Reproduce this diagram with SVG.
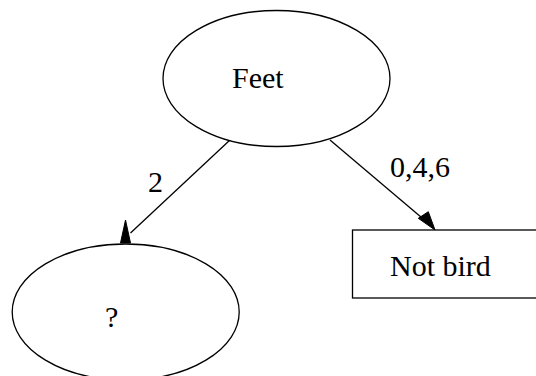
<svg xmlns="http://www.w3.org/2000/svg" width="536" height="376" viewBox="0 0 536 376">
<style>
.shape{fill:#fff;stroke:#000;stroke-width:1.3}
.lbl{font-family:"Liberation Serif","Times New Roman",serif;font-size:30px;fill:#000}
.edge{stroke:#000;stroke-width:1.3;fill:none}
.head{fill:#000;stroke:#000;stroke-width:1}
</style>
<rect width="536" height="376" fill="#fff"/>
<g id="connectors">
<line class="edge" x1="230" y1="140" x2="130.5" y2="233"/>
<polygon class="head" points="125.5,220 120.5,243 130.5,243"/>
<text class="lbl" x="148" y="191.5">2</text>
<line class="edge" x1="330" y1="140" x2="428" y2="223"/>
<polygon class="head" points="435,230 418.3,218.3 428.3,211.7"/>
<text class="lbl" x="390" y="176.5">0,4,6</text>
</g>
<g id="node-feet">
<ellipse class="shape" cx="276.5" cy="78.5" rx="113.5" ry="68"/>
<text class="lbl" x="232" y="87.5">Feet</text>
</g>
<g id="node-unknown">
<ellipse class="shape" cx="125.7" cy="312" rx="113.5" ry="68"/>
<text class="lbl" x="105" y="327">?</text>
</g>
<g id="node-notbird">
<rect class="shape" x="352.5" y="230" width="200" height="68"/>
<text class="lbl" x="390" y="275.5">Not bird</text>
</g>
</svg>
